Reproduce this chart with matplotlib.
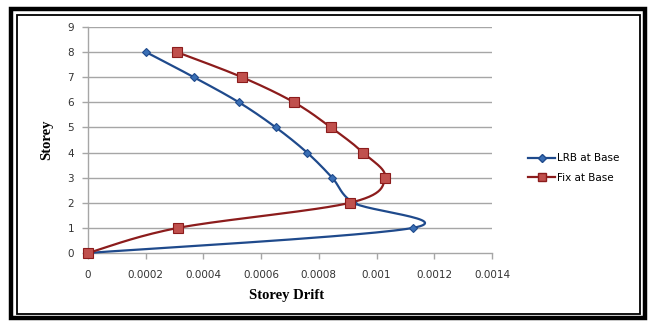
import numpy as np
import matplotlib
matplotlib.use("Agg")
import matplotlib.pyplot as plt
from matplotlib.patches import Rectangle
from matplotlib.lines import Line2D

storey = [0, 1, 2, 3, 4, 5, 6, 7, 8]
lrb_drift = [0.0, 0.001126, 0.00092, 0.000846, 0.000759, 0.000651, 0.000523, 0.000367, 0.000201]
fix_drift = [0.0, 0.000312, 0.000908, 0.001029, 0.000953, 0.000842, 0.000714, 0.000534, 0.000308]
xticks = [0, 0.0002, 0.0004, 0.0006, 0.0008, 0.001, 0.0012, 0.0014]
xtick_labels = ["0", "0.0002", "0.0004", "0.0006", "0.0008", "0.001", "0.0012", "0.0014"]
yticks = list(range(10))

fig = plt.figure(figsize=(6.51, 3.22), dpi=100)
W, H = 651, 322
ax = fig.add_axes([88 / W, 1 - 253 / H, (492 - 88) / W, (253 - 27) / H])

XMAX, YMAX = 0.0014, 9
sx, sy = 404 / XMAX, 226 / YMAX


def smooth(xs, ys, n=30):
    P = np.column_stack([np.array(xs) * sx, np.array(ys) * sy])
    pts = []
    m = len(P)
    for i in range(m - 1):
        p0 = P[i - 1] if i > 0 else P[i]
        p1 = P[i]
        p2 = P[i + 1]
        p3 = P[i + 2] if i + 2 < m else P[i + 1]
        c1 = p1 + (p2 - p0) / 6
        c2 = p2 - (p3 - p1) / 6
        t = np.linspace(0, 1, n)[:, None]
        seg = ((1 - t) ** 3) * p1 + 3 * ((1 - t) ** 2) * t * c1 + 3 * (1 - t) * t ** 2 * c2 + t ** 3 * p2
        pts.append(seg if i == 0 else seg[1:])
    pts = np.vstack(pts)
    return pts[:, 0] / sx, pts[:, 1] / sy


for yv in yticks[1:]:
    ax.axhline(yv, color="#a6a6a6", lw=1.0, zorder=1)

blue_line = "#1f4a8c"
red_line = "#8c1c1c"
bx, by = smooth(lrb_drift, storey)
rx, ry = smooth(fix_drift, storey)
ax.plot(bx, by, color=blue_line, lw=1.6, zorder=3, solid_capstyle="round", clip_on=False)
ax.plot(rx, ry, color=red_line, lw=1.6, zorder=3, solid_capstyle="round", clip_on=False)
ax.plot(lrb_drift, storey, ls="none", marker="D", ms=4.2, mfc="#3a6fb5", mec="#1f4a8c", mew=0.8,
        zorder=4, clip_on=False)
ax.plot(fix_drift, storey, ls="none", marker="s", ms=6.8, mfc="#c0504d", mec="#8c1c1c", mew=0.8,
        zorder=5, clip_on=False)

ax.set_xlim(0, XMAX)
ax.set_ylim(0, YMAX)
ax.set_xticks(xticks)
ax.set_xticklabels(xtick_labels)
ax.set_yticks(yticks)
for s in ["top", "right"]:
    ax.spines[s].set_visible(False)
for s in ["left", "bottom"]:
    ax.spines[s].set_color("#a6a6a6")
    ax.spines[s].set_linewidth(1.0)
ax.tick_params(axis="both", colors="#a6a6a6", labelcolor="#333333", labelsize=7.5, length=4, width=1.0, direction="out")
ax.tick_params(axis="x", pad=8)
ax.tick_params(axis="y", pad=6)
ax.patch.set_visible(False)

fig.text(47 / W, 1 - 140 / H, "Storey", rotation=90, ha="center", va="center",
         family="Liberation Serif", fontweight="bold", fontsize=10.5)
fig.text(287 / W, 1 - 295 / H, "Storey Drift", ha="center", va="center",
         family="Liberation Serif", fontweight="bold", fontsize=10.5)

h1 = Line2D([], [], color=blue_line, lw=1.6, marker="D", ms=4, mfc="#3a6fb5", mec="#1f4a8c")
h2 = Line2D([], [], color=red_line, lw=1.6, marker="s", ms=6, mfc="#c0504d", mec="#8c1c1c")
fig.legend([h1, h2], ["LRB at Base", "Fix at Base"], loc="center left",
           bbox_to_anchor=(528 / W, 1 - 168 / H), frameon=False, fontsize=7.5,
           handlelength=2.6, handletextpad=0.2, labelspacing=0.9, borderaxespad=0, borderpad=0)

fig.patches.append(Rectangle((11 / W, 1 - 318 / H), (645 - 11) / W, (318 - 9) / H, transform=fig.transFigure,
                             fill=False, ec="black", lw=3.2))
fig.patches.append(Rectangle((16.5 / W, 1 - 313.5 / H), (639.5 - 16.5) / W, (313.5 - 14.5) / H,
                             transform=fig.transFigure, fill=False, ec="black", lw=1.3))

fig.savefig("out.png", dpi=100)
